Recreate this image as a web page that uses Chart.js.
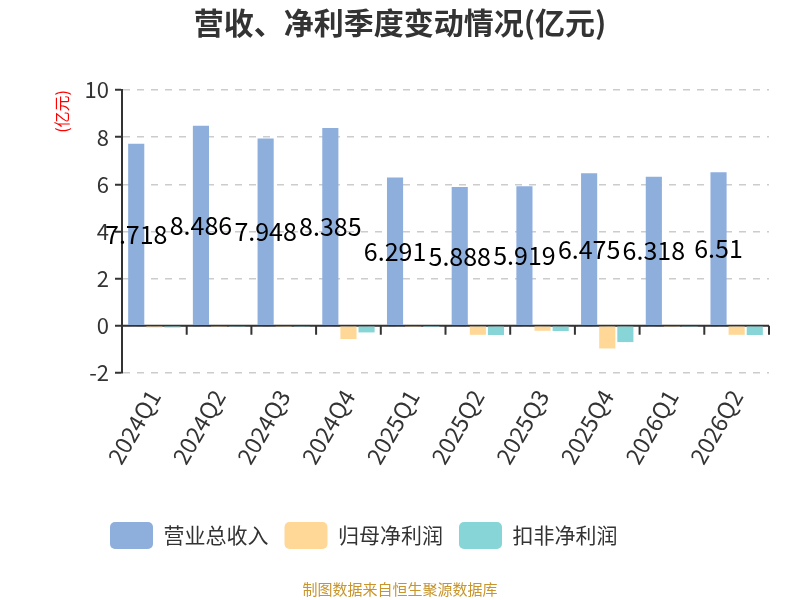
<!DOCTYPE html>
<html>
<head>
<meta charset="utf-8">
<script src="https://cdn.jsdelivr.net/npm/chart.js@4.4.1/dist/chart.umd.min.js"></script>
<style>
  html, body { margin: 0; padding: 0; background: #fff; }
  #wrap { width: 800px; height: 600px; }
</style>
</head>
<body>
<div id="wrap"><canvas id="myCanvas"></canvas></div>
<script>
/* data (亿元) */
const quarters = ["2024Q1", "2024Q2", "2024Q3", "2024Q4", "2025Q1", "2025Q2", "2025Q3", "2025Q4", "2026Q1", "2026Q2"];
const revenue = [7.718, 8.486, 7.948, 8.385, 6.291, 5.888, 5.919, 6.475, 6.318, 6.51];
const netProfit = [-0.07, -0.02, -0.02, -0.56, -0.02, -0.38, -0.21, -0.96, -0.02, -0.38];
const deductedProfit = [-0.07, -0.02, -0.02, -0.28, -0.01, -0.39, -0.22, -0.69, -0.02, -0.39];
const yTicks = [-2, 0, 2, 4, 6, 8, 10];

const FONT = "'Noto Sans CJK SC', 'Noto Sans', sans-serif";

// value labels in the middle of the revenue bars
const barLabels = {
  id: "barLabels",
  afterDatasetsDraw(chart) {
    const ctx = chart.ctx;
    const meta = chart.getDatasetMeta(0);
    ctx.save();
    ctx.font = "25px " + FONT;
    ctx.fillStyle = "#000";
    ctx.textAlign = "center";
    ctx.textBaseline = "middle";
    meta.data.forEach((bar, i) => {
      const p = bar.getProps(["x", "y", "base"], true);
      ctx.fillText(String(revenue[i]), p.x, (p.y + p.base) / 2);
    });
    ctx.restore();
  },
};

// x axis line sitting on y = 0, with boundary ticks
const zeroAxis = {
  id: "zeroAxis",
  beforeDatasetsDraw(chart) {
    const { ctx, chartArea, scales } = chart;
    const y0 = scales.y.getPixelForValue(0);
    const step = scales.x.getPixelForValue(1) - scales.x.getPixelForValue(0);
    ctx.save();
    ctx.strokeStyle = "#333";
    ctx.lineWidth = 2;
    ctx.beginPath();
    ctx.moveTo(chartArea.left, y0);
    ctx.lineTo(chartArea.right, y0);
    for (let i = 0; i <= quarters.length; i++) {
      const x = scales.x.getPixelForValue(0) - step / 2 + i * step;
      ctx.moveTo(x, y0);
      ctx.lineTo(x, y0 + 9);
    }
    ctx.stroke();
    ctx.restore();
  },
};

// legend sits a bit right of the canvas left edge
const shiftLegend = {
  id: "shiftLegend",
  afterLayout(chart) {
    chart.legend.left += 42;
    chart.legend.right += 42;
  },
};

// title, unit label and source line
const texts = {
  id: "texts",
  afterDraw(chart) {
    const { ctx, chartArea } = chart;
    ctx.save();
    ctx.textAlign = "center";
    ctx.textBaseline = "middle";
    ctx.fillStyle = "#333";
    ctx.font = "bold 30px " + FONT;
    ctx.fillText("营收、净利季度变动情况(亿元)", 400, 23);

    ctx.fillStyle = "#c8952c";
    ctx.font = "15px " + FONT;
    ctx.fillText("制图数据来自恒生聚源数据库", 400, 589);

    ctx.translate(62, chartArea.top);
    ctx.rotate(-Math.PI / 2);
    ctx.textAlign = "right";
    ctx.fillStyle = "#ff0000";
    ctx.font = "16px " + FONT;
    ctx.fillText("(亿元)", 0, 0);
    ctx.restore();
  },
};

new Chart(document.getElementById("myCanvas"), {
  type: "bar",
  data: {
    labels: quarters,
    datasets: [
      { label: "营业总收入", data: revenue, backgroundColor: "#8eaedc" },
      { label: "归母净利润", data: netProfit, backgroundColor: "#ffd898" },
      { label: "扣非净利润", data: deductedProfit, backgroundColor: "#88d5d8" },
    ],
  },
  options: {
    responsive: true,
    maintainAspectRatio: false,
    animation: false,
    layout: { padding: { left: 52, right: 31, top: 90, bottom: 41 } },
    datasets: {
      bar: { categoryPercentage: 0.84, barPercentage: 0.89 },
    },
    plugins: {
      title: { display: false },
      legend: {
        position: "bottom",
        align: "start",
        labels: {
          color: "#333",
          font: { family: FONT, size: 21 },
          boxWidth: 43,
          boxHeight: 27,
          useBorderRadius: true,
          borderRadius: 5,
          padding: 16,
        },
      },
      tooltip: { enabled: false },
    },
    scales: {
      x: {
        afterFit(scale) {
          scale.height = 133;
        },
        grid: { display: false, drawTicks: false },
        border: { display: false },
        ticks: {
          color: "#333",
          font: { family: FONT, size: 23 },
          minRotation: 60,
          maxRotation: 60,
          padding: 12,
        },
      },
      y: {
        min: -2,
        max: 10,
        afterBuildTicks(scale) {
          scale.ticks = yTicks.map((v) => ({ value: v }));
        },
        afterFit(scale) {
          scale.width = 70;
        },
        grid: {
          color: "#cccccc",
          lineWidth: 1.5,
          tickColor: "#333",
          tickLength: 7,
          tickWidth: 2,
        },
        border: { display: true, color: "#333", width: 2, dash: [7, 7] },
        ticks: {
          color: "#333",
          font: { family: FONT, size: 22 },
          padding: 6,
        },
      },
    },
  },
  plugins: [zeroAxis, barLabels, shiftLegend, texts],
});
</script>
</body>
</html>
